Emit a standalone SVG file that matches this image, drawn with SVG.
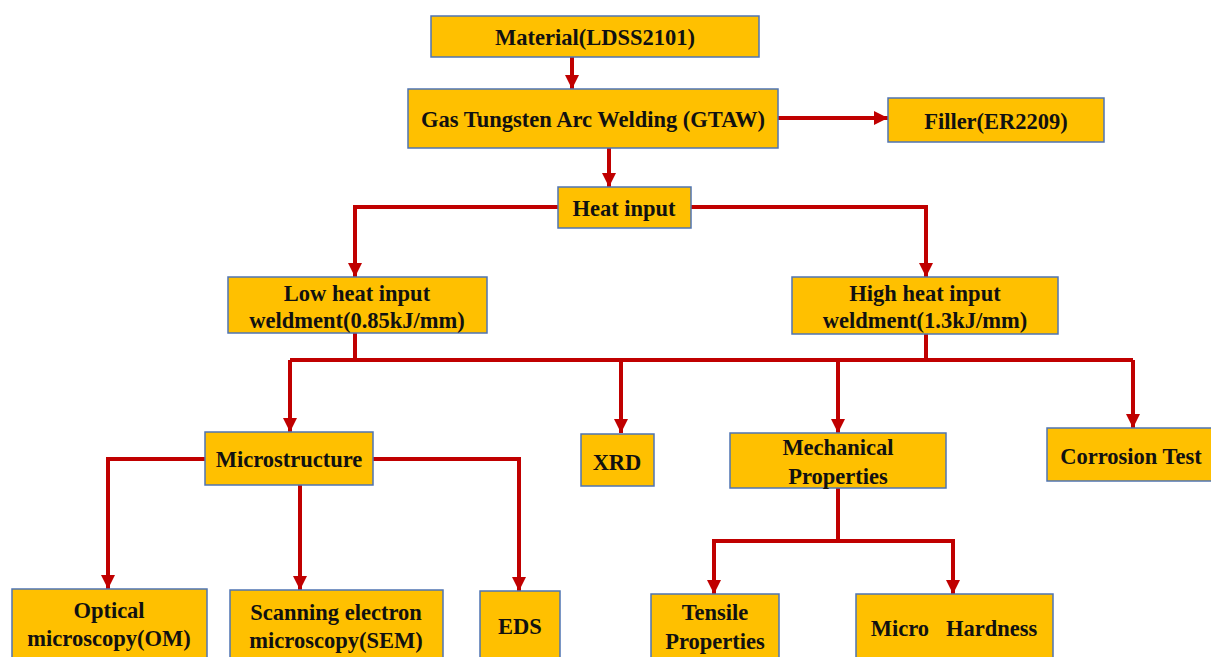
<svg xmlns="http://www.w3.org/2000/svg" width="1211" height="657" viewBox="0 0 1211 657">
<defs>
<style>
.box{fill:#FFC000;stroke:#4F74B3;stroke-width:1.5}
.t{font-family:"Liberation Serif","Times New Roman",serif;font-weight:bold;font-size:22.5px;fill:#111;text-anchor:middle}
.c{fill:none;stroke:#C00000;stroke-width:4}
.a{fill:none;stroke:#C00000;stroke-width:4;marker-end:url(#ah)}
</style>
<marker id="ah" markerUnits="userSpaceOnUse" markerWidth="16" markerHeight="14" refX="14" refY="7" orient="auto">
<path d="M0,0 L14,7 L0,14 Z" fill="#C00000"/>
</marker>
</defs>
<rect width="1211" height="657" fill="#fff"/>
<g id="connectors">
<path class="a" d="M572,57 V89"/>
<path class="a" d="M609,148 V187"/>
<path class="a" d="M778,118 H888"/>
<path class="a" d="M558,207 H355 V277"/>
<path class="a" d="M691,207 H926 V277"/>
<path class="c" d="M355,333 V360"/>
<path class="c" d="M926,334 V360"/>
<path class="c" d="M290,360 H1133"/>
<path class="a" d="M290,360 V432"/>
<path class="a" d="M621,360 V433"/>
<path class="a" d="M838,360 V433"/>
<path class="a" d="M1133,360 V428"/>
<path class="a" d="M205,459 H108 V589"/>
<path class="a" d="M373,459 H519 V591"/>
<path class="a" d="M300,485 V590"/>
<path class="c" d="M838,488 V541"/>
<path class="a" d="M838,541 H714 V594"/>
<path class="a" d="M838,541 H953 V594"/>
</g>
<g id="material"><rect class="box" x="431" y="16" width="328" height="41"/><text class="t" x="595" y="45">Material(LDSS2101)</text></g>
<g id="gtaw"><rect class="box" x="408" y="89" width="370" height="59"/><text class="t" x="593" y="127">Gas Tungsten Arc Welding (GTAW)</text></g>
<g id="filler"><rect class="box" x="888" y="98" width="216" height="44"/><text class="t" x="996" y="129">Filler(ER2209)</text></g>
<g id="heat"><rect class="box" x="558" y="187" width="133" height="41"/><text class="t" x="624" y="216">Heat input</text></g>
<g id="low"><rect class="box" x="228" y="277" width="259" height="56"/><text class="t" x="357" y="301">Low heat input</text><text class="t" x="357" y="328">weldment(0.85kJ/mm)</text></g>
<g id="high"><rect class="box" x="792" y="277" width="266" height="57"/><text class="t" x="925" y="301">High heat input</text><text class="t" x="925" y="328">weldment(1.3kJ/mm)</text></g>
<g id="micro"><rect class="box" x="205" y="432" width="168" height="53"/><text class="t" x="289" y="467">Microstructure</text></g>
<g id="xrd"><rect class="box" x="581" y="434" width="73" height="52"/><text class="t" x="617" y="470">XRD</text></g>
<g id="mech"><rect class="box" x="730" y="433" width="216" height="55"/><text class="t" x="838" y="455">Mechanical</text><text class="t" x="838" y="484">Properties</text></g>
<g id="corrosion"><rect class="box" x="1047" y="428" width="170" height="53"/><text class="t" x="1131" y="464">Corrosion Test</text></g>
<g id="om"><rect class="box" x="12" y="589" width="195" height="75"/><text class="t" x="109" y="618">Optical</text><text class="t" x="109" y="646">microscopy(OM)</text></g>
<g id="sem"><rect class="box" x="230" y="590" width="213" height="75"/><text class="t" x="336" y="620">Scanning electron</text><text class="t" x="336" y="648">microscopy(SEM)</text></g>
<g id="eds"><rect class="box" x="480" y="591" width="80" height="75"/><text class="t" x="520" y="634">EDS</text></g>
<g id="tensile"><rect class="box" x="651" y="594" width="128" height="70"/><text class="t" x="715" y="620">Tensile</text><text class="t" x="715" y="649">Properties</text></g>
<g id="hardness"><rect class="box" x="856" y="594" width="197" height="70"/><text class="t" x="954" y="636" xml:space="preserve">Micro   Hardness</text></g>
</svg>
